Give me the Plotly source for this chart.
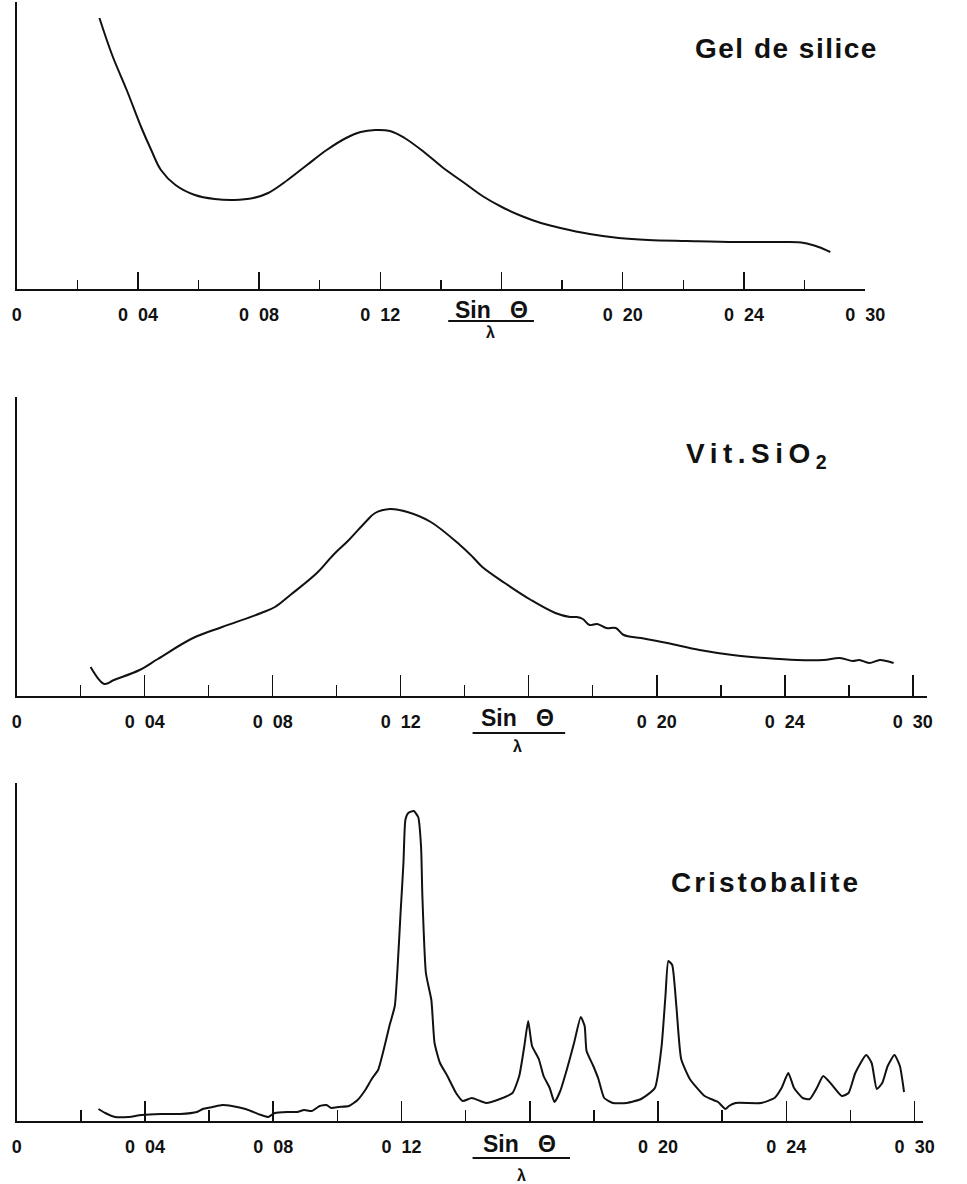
import plotly.graph_objects as go

W, H = 967, 1184

# ---------------- data (sin(theta)/lambda , relative intensity) ----------------
gel_x = [0.0273, 0.0315, 0.0363, 0.0412, 0.0444, 0.0476, 0.0524, 0.0588, 0.0653, 0.0717,
         0.0781, 0.0830, 0.0894, 0.0958, 0.1023, 0.1087, 0.1135, 0.1183, 0.1232, 0.1280,
         0.1344, 0.1408, 0.1473, 0.1537, 0.1601, 0.1666, 0.1730, 0.1794, 0.1891, 0.1987,
         0.2084, 0.2212, 0.2373, 0.2534, 0.2598, 0.2646, 0.2685]
gel_y = [27.1, 23.4, 19.9, 16.1, 13.9, 11.9, 10.4, 9.4, 9.0, 8.9,
         9.1, 9.6, 10.9, 12.4, 13.9, 15.1, 15.7, 15.9, 15.8, 15.1,
         13.7, 12.1, 10.7, 9.3, 8.2, 7.3, 6.6, 6.1, 5.5, 5.1,
         4.9, 4.8, 4.7, 4.7, 4.6, 4.2, 3.7]

vit_x = [0.0231, 0.0274, 0.0304, 0.0384, 0.0441, 0.0551, 0.0642, 0.0764, 0.0807, 0.0855,
         0.0938, 0.0989, 0.1038, 0.1090, 0.1120, 0.1166, 0.1221, 0.1294, 0.1385, 0.1425,
         0.1455, 0.1525, 0.1607, 0.1683, 0.1729, 0.1750, 0.1769, 0.1790, 0.1814, 0.1842,
         0.1872, 0.1897, 0.1951, 0.2033, 0.2134, 0.2237, 0.2338, 0.2438, 0.2521, 0.2572,
         0.2612, 0.2633, 0.2664, 0.2697, 0.2718, 0.2740]
vit_y = [2.9, 1.2, 1.6, 2.6, 3.7, 5.8, 6.9, 8.3, 8.9, 10.1,
         12.3, 14.1, 15.6, 17.4, 18.3, 18.7, 18.4, 17.4, 15.1, 13.9,
         12.9, 11.3, 9.6, 8.3, 7.9, 7.9, 7.7, 7.1, 7.2, 6.8,
         6.8, 6.1, 5.8, 5.3, 4.6, 4.1, 3.8, 3.6, 3.6, 3.8,
         3.5, 3.6, 3.3, 3.6, 3.5, 3.3]

cri_x = [0.0255, 0.0276, 0.0307, 0.0349, 0.0389, 0.0450, 0.0510, 0.0562, 0.0580, 0.0611,
         0.0641, 0.0671, 0.0714, 0.0762, 0.0784, 0.0805, 0.0844, 0.0875, 0.0896, 0.0920,
         0.0945, 0.0966, 0.0981, 0.1005, 0.1036, 0.1063, 0.1087, 0.1109, 0.1127, 0.1148,
         0.1163, 0.1179, 0.1188, 0.1197, 0.1206, 0.1212, 0.1221, 0.1238, 0.1252, 0.1261,
         0.1265, 0.1276, 0.1293, 0.1303, 0.1320, 0.1343, 0.1370, 0.1391, 0.1419, 0.1464,
         0.1507, 0.1546, 0.1567, 0.1583, 0.1595, 0.1607, 0.1628, 0.1643, 0.1662, 0.1677,
         0.1695, 0.1716, 0.1738, 0.1759, 0.1771, 0.1777, 0.1798, 0.1814, 0.1832, 0.1859,
         0.1902, 0.1947, 0.1990, 0.2011, 0.2023, 0.2032, 0.2044, 0.2057, 0.2072, 0.2099,
         0.2145, 0.2187, 0.2210, 0.2221, 0.2242, 0.2321, 0.2363, 0.2385, 0.2406, 0.2424,
         0.2451, 0.2473, 0.2495, 0.2515, 0.2540, 0.2573, 0.2594, 0.2615, 0.2649, 0.2666,
         0.2682, 0.2699, 0.2716, 0.2737, 0.2754, 0.2767]
cri_y = [1.2, 0.8, 0.4, 0.4, 0.6, 0.7, 0.7, 0.9, 1.2, 1.4,
         1.6, 1.5, 1.2, 0.6, 0.4, 0.8, 0.9, 0.9, 1.1, 1.0,
         1.5, 1.6, 1.3, 1.4, 1.5, 2.1, 3.1, 4.3, 5.1, 7.6,
         9.6, 11.5, 15.5, 20.8, 25.8, 30.1, 30.8, 31.0, 30.4, 27.4,
         22.5, 14.8, 12.1, 7.8, 5.8, 4.5, 2.8, 2.0, 2.3, 1.8,
         2.2, 2.8, 4.5, 7.5, 10.0, 7.5, 6.2, 4.5, 3.3, 1.9,
         3.0, 5.2, 7.8, 10.4, 9.5, 7.0, 5.5, 4.2, 2.3, 1.8,
         1.8, 2.2, 3.3, 7.5, 12.5, 16.0, 15.6, 11.5, 6.2, 4.2,
         2.5, 1.9, 1.2, 1.5, 1.8, 1.8, 2.3, 3.3, 4.8, 3.3,
         2.3, 2.2, 3.3, 4.5, 3.7, 2.5, 2.8, 4.8, 6.6, 5.8,
         3.2, 3.8, 5.5, 6.6, 5.5, 2.9]

tick_vals = [0, 0.04, 0.08, 0.12, 0.16, 0.20, 0.24, 0.28]
tick_text = ["0", "0\u00a0\u00a004", "0\u00a0\u00a008", "0\u00a0\u00a012", "\u00a0",
             "0\u00a0\u00a020", "0\u00a0\u00a024", "0\u00a0\u00a030"]
minor_vals = [0.02, 0.06, 0.10, 0.14, 0.18, 0.22, 0.26]

titles = ["Gel de silice", "Vit.SiO<sub>2</sub>", "Cristobalite"]

# ---------------- layout geometry (pixels) ----------------
FONT = "Liberation Sans, Arial, Helvetica, sans-serif"
INK = "#111111"

panels = [
    dict(xpx=(12, 883), xmax=0.28, ypx=(2, 289), ymax=28.7, maj=17, mnr=9,
         title_xy=(706, 48), spacing=1.5,
         sin_xy=(499, 310), frac=(455, 543, 321), lam_xy=(498, 332)),
    dict(xpx=(12, 946), xmax=0.2843, ypx=(397, 696), ymax=29.9, maj=21, mnr=11,
         title_xy=(697, 456), spacing=5.5,
         sin_xy=(526, 718), frac=(480, 575, 733), lam_xy=(526, 746)),
    dict(xpx=(12, 942), xmax=0.2825, ypx=(783, 1121), ymax=33.8, maj=20, mnr=11,
         title_xy=(682, 882), spacing=3,
         sin_xy=(528, 1144), frac=(480, 580, 1158), lam_xy=(530, 1175)),
]

series = [(gel_x, gel_y), (vit_x, vit_y), (cri_x, cri_y)]


def px(x):
    return x / W


def py(y):
    return 1 - y / H


fig = go.Figure()
annotations = []
shapes = []

for i, (p, (sx, sy)) in enumerate(zip(panels, series)):
    n = "" if i == 0 else str(i + 1)
    xa, ya = "x" + n, "y" + n
    fig.add_trace(go.Scatter(
        x=sx, y=sy, mode="lines", xaxis=xa, yaxis=ya,
        line=dict(color=INK, width=2, shape="spline", smoothing=0.5 if i == 2 else 1.0),
        showlegend=False, hoverinfo="x+y"))

    fig.layout["xaxis" + n] = dict(
        domain=[px(p["xpx"][0]), px(p["xpx"][1])],
        range=[0, p["xmax"]], anchor=ya,
        showline=True, linecolor=INK, linewidth=2,
        showgrid=False, zeroline=False,
        ticks="inside", ticklen=p["maj"], tickwidth=1.5, tickcolor=INK,
        tickmode="array", tickvals=tick_vals, ticktext=tick_text,
        ticklabelstandoff=8,
        tickfont=dict(family=FONT, size=18, color=INK, weight="bold"),
        minor=dict(tickmode="array", tickvals=minor_vals, ticks="inside",
                   ticklen=p["mnr"], tickwidth=1.5, tickcolor=INK, showgrid=False),
        fixedrange=True,
    )
    fig.layout["yaxis" + n] = dict(
        domain=[py(p["ypx"][1]), py(p["ypx"][0])],
        range=[0, p["ymax"]], anchor=xa,
        showline=True, linecolor=INK, linewidth=1.5,
        showgrid=False, zeroline=False, showticklabels=False, ticks="",
        fixedrange=True,
    )

    tx, ty = p["title_xy"]
    annotations.append(dict(
        x=px(tx), y=py(ty), xref="paper", yref="paper", xanchor="left", yanchor="middle",
        text='<span style="letter-spacing:%spx">%s</span>' % (p["spacing"], titles[i]),
        showarrow=False, font=dict(family=FONT, size=28, color=INK, weight="bold")))

    sxp, syp = p["sin_xy"]
    annotations.append(dict(
        x=px(sxp), y=py(syp), xref="paper", yref="paper", xanchor="center", yanchor="middle",
        text="Sin\u00a0\u00a0\u00a0\u0398", showarrow=False,
        font=dict(family=FONT, size=23, color=INK, weight="bold")))
    lx, ly = p["lam_xy"]
    annotations.append(dict(
        x=px(lx), y=py(ly), xref="paper", yref="paper", xanchor="center", yanchor="middle",
        text="\u03bb", showarrow=False,
        font=dict(family=FONT, size=16, color=INK, weight="bold")))
    x0, x1, yl = p["frac"]
    shapes.append(dict(type="line", xref="paper", yref="paper",
                       x0=px(x0), x1=px(x1), y0=py(yl), y1=py(yl),
                       line=dict(color=INK, width=2)))

fig.update_layout(
    width=W, height=H, autosize=False,
    margin=dict(l=0, r=0, t=0, b=0),
    paper_bgcolor="white", plot_bgcolor="white",
    annotations=annotations, shapes=shapes,
    showlegend=False,
)

fig.write_html("out.html",
               config={"displayModeBar": False, "staticPlot": True},
               post_script="document.body.style.margin='0';document.body.style.overflow='hidden';")
